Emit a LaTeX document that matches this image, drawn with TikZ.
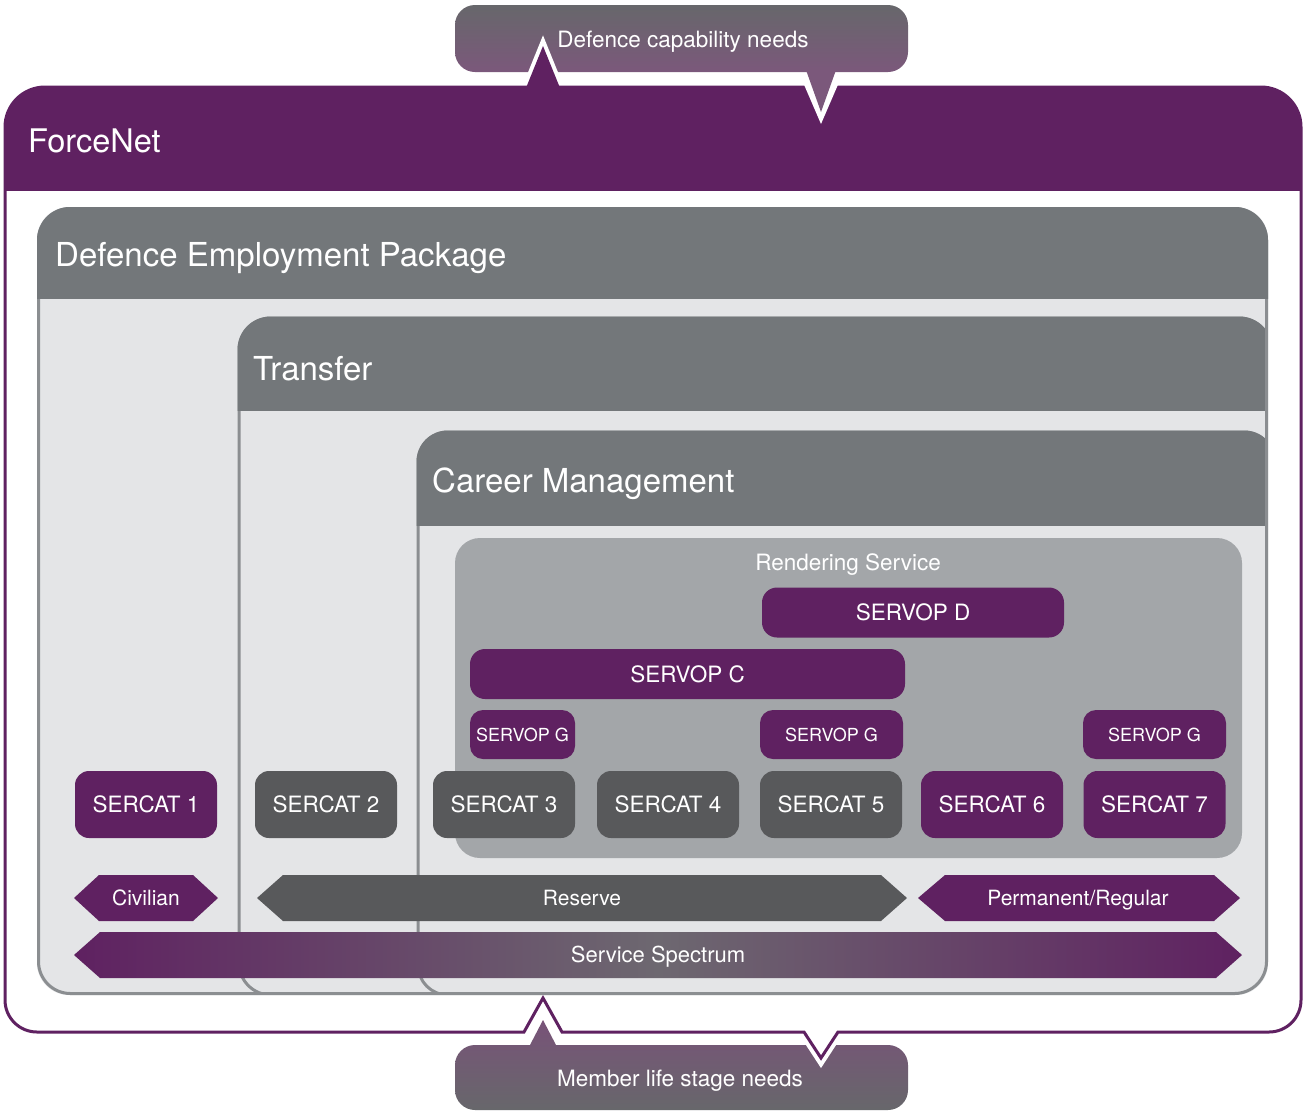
\documentclass[tikz,border=0pt]{standalone}
\usepackage{fontspec}
\setmainfont{TeX Gyre Heros}
\definecolor{purp}{HTML}{5F2161}
\definecolor{hdrgray}{HTML}{73777A}
\definecolor{lightbg}{HTML}{E4E5E7}
\definecolor{bordergray}{HTML}{8B8E91}
\definecolor{rsgray}{HTML}{A3A6A9}
\definecolor{dkgray}{HTML}{58595B}
\definecolor{calgray}{HTML}{67676B}
\definecolor{calpurp}{HTML}{7B587B}
\definecolor{specmid}{HTML}{6D6870}
\def\fnoutline{(5,127) .. controls (5,104.9) and (22.9,87) .. (45,87) -- (528,87) -- (543,50) -- (558,87) -- (1261,87) .. controls (1283.1,87) and (1301,104.9) .. (1301,127) -- (1301,1000) .. controls (1301,1017.7) and (1286.7,1032) .. (1269,1032) -- (838,1032) -- (821,1058) -- (804,1032) -- (562,1032) -- (543,998) -- (524,1032) -- (37,1032) .. controls (19.3,1032) and (5,1017.7) .. (5,1000) -- cycle}
\begin{document}
\begin{tikzpicture}[x=1pt,y=-1pt,
  every node/.style={text=white, inner sep=0pt},
  cat/.style={rectangle, rounded corners=14pt, minimum width=142pt, minimum height=67pt, font=\fontsize{22.5}{24}\selectfont},
  purpfill/.style={fill=purp},
  grayfill/.style={fill=dkgray},
  servg/.style={rectangle, rounded corners=13pt, minimum height=49pt, fill=purp, font=\fontsize{18}{20}\selectfont},
  servbig/.style={rectangle, rounded corners=15pt, minimum height=50pt, fill=purp, font=\fontsize{22.5}{24}\selectfont},
  hdrtxt/.style={anchor=base west, font=\fontsize{33}{36}\selectfont},
  bartxt/.style={anchor=base, font=\fontsize{21}{24}\selectfont},
  caltxt/.style={anchor=base, font=\fontsize{22.5}{24}\selectfont},
  boxborder/.style={draw=bordergray, line width=3pt, rounded corners=32pt},
]
\useasboundingbox[fill=white] (0,0) rectangle (1303,1112);

% callouts
\shade[top color=calgray, bottom color=calpurp, rounded corners=20pt] (455,5) rectangle (908,72);
\shade[top color=calpurp!90!purp, bottom color=calgray]
  (455,1065) .. controls (455,1054) and (464,1045) .. (475,1045) -- (530,1045) -- (543,1020) -- (556,1045) -- (888,1045) .. controls (899,1045) and (908,1054) .. (908,1065) -- (908,1090) .. controls (908,1101) and (899,1110) .. (888,1110) -- (475,1110) .. controls (464,1110) and (455,1101) .. (455,1090) -- cycle;

% ForceNet outer box
\path[draw=white, line width=11pt, line join=miter] \fnoutline;
\path[fill=white] \fnoutline;
\begin{scope}
  \clip (0,0) rectangle (1303,190);
  \path[fill=purp] \fnoutline;
\end{scope}
\path[draw=purp, line width=3pt, line join=miter] \fnoutline;

% top callout tail
\fill[white] (799,73) -- (821,124) -- (843,73) -- cycle;
\fill[calpurp] (806,70) -- (821,112) -- (836,70) -- cycle;

\node[caltxt] (needsTop) at (683,47) {Defence capability needs};
\node[caltxt] (needsBot) at (680,1086) {Member life stage needs};
\node[anchor=base west, font=\fontsize{32.5}{34}\selectfont] (forcenet) at (28,152) {ForceNet};

% Defence Employment Package box
\fill[lightbg, rounded corners=32pt] (37,207) rectangle (1268,995);
\begin{scope}
  \clip[rounded corners=31pt] (38.5,208.5) rectangle (1266.5,993.5);
  % Transfer
  \fill[lightbg, rounded corners=32pt] (239,318) rectangle (1271,995);
  \draw[boxborder] (239,318) rectangle (1271,995);
  \begin{scope}
    \clip (200,300) rectangle (1303,410);
    \fill[hdrgray, rounded corners=33pt] (237.5,316.5) rectangle (1272.5,996.5);
  \end{scope}
  % Career Management
  \fill[lightbg, rounded corners=30pt] (418,432) rectangle (1274,995);
  \draw[boxborder, rounded corners=30pt] (418,432) rectangle (1274,995);
  \begin{scope}
    \clip (380,420) rectangle (1303,525);
    \fill[hdrgray, rounded corners=31pt] (416.5,430.5) rectangle (1275.5,996.5);
  \end{scope}
\end{scope}
\draw[boxborder] (38.5,208.5) rectangle (1266.5,993.5);
\begin{scope}
  \clip (0,200) rectangle (1303,298);
  \fill[hdrgray, rounded corners=33pt] (37,207) rectangle (1268,995);
\end{scope}

\node[hdrtxt] (dep) at (55,266) {Defence Employment Package};
\node[hdrtxt] (transfer) at (253,380) {Transfer};
\node[hdrtxt] (career) at (432,492) {Career Management};

% Rendering Service
\node[rectangle, rounded corners=25pt, fill=rsgray, minimum width=787pt, minimum height=320pt] (rs) at (848.5,698) {};
\node[caltxt] (rslabel) at (848,570) {Rendering Service};

\node[servbig, minimum width=302pt] (servD) at (913,612.5) {SERVOP D};
\node[servbig, minimum width=435pt] (servC) at (687.5,674) {SERVOP C};
\node[servg, minimum width=105pt] (servG1) at (522.5,734.5) {SERVOP G};
\node[servg, minimum width=143pt] (servG2) at (831.5,734.5) {SERVOP G};
\node[servg, minimum width=143pt] (servG3) at (1154.5,734.5) {SERVOP G};

\node[cat, purpfill] (sc1) at (146,804.5) {SERCAT 1};
\node[cat, grayfill] (sc2) at (326,804.5) {SERCAT 2};
\node[cat, grayfill] (sc3) at (504,804.5) {SERCAT 3};
\node[cat, grayfill] (sc4) at (668,804.5) {SERCAT 4};
\node[cat, grayfill] (sc5) at (831,804.5) {SERCAT 5};
\node[cat, purpfill] (sc6) at (992,804.5) {SERCAT 6};
\node[cat, purpfill] (sc7) at (1154.5,804.5) {SERCAT 7};

% bars
\fill[purp] (74,898) -- (99,875) -- (193,875) -- (218,898) -- (193,921) -- (99,921) -- cycle;
\node[bartxt] (civ) at (146,905) {Civilian};
\fill[dkgray] (257,898) -- (283,875) -- (881,875) -- (907,898) -- (881,921) -- (283,921) -- cycle;
\node[bartxt] (res) at (582,905) {Reserve};
\fill[purp] (918,898) -- (945,875) -- (1214,875) -- (1240,898) -- (1214,921) -- (945,921) -- cycle;
\node[bartxt] (perm) at (1078,905) {Permanent/Regular};
\shade[left color=purp, right color=purp, middle color=specmid] (74,955) -- (100,932) -- (1216,932) -- (1242,955) -- (1216,978) -- (100,978) -- cycle;
\node[bartxt, font=\fontsize{22}{24}\selectfont] (spec) at (658,962) {Service Spectrum};
\end{tikzpicture}
\end{document}
